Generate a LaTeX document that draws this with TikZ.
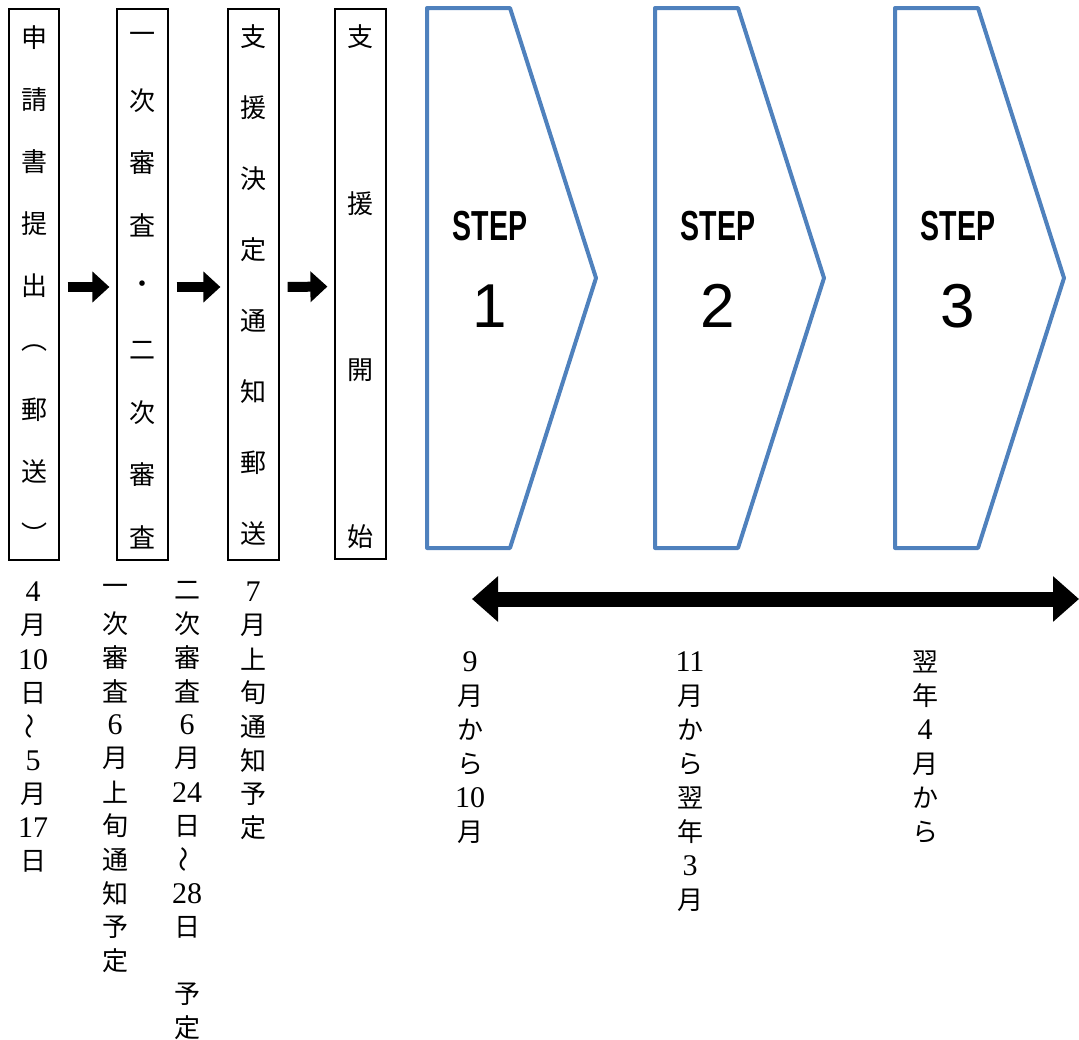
\documentclass[tikz,border=0pt]{standalone}
\usepackage{fontspec}
\usepackage{graphicx}
\newfontfamily\cjk{Noto Sans CJK JP}
\newfontfamily\lsans{Liberation Sans}
\newfontfamily\lserif{Liberation Serif}
\usetikzlibrary{arrows.meta}
\definecolor{stepblue}{RGB}{79,129,189}
\newcommand\dg[1]{{\lserif\fontsize{30}{30}\selectfont #1}}
\newcommand\wv{\rotatebox{90}{～}}
\newcommand\vcol[5]{%
  \foreach \c [count=\i from 0] in {#5} {
    \node[vch] (#1-\i) at (#2, {#3+\i*#4}) {\c};
  }}
\tikzset{
  boxst/.style={draw=black, line width=1.2pt, inner sep=0pt},
  vch/.style={font=\cjk\fontsize{26}{30}\selectfont, inner sep=0pt},
  chev/.style={draw=stepblue, line width=4pt, line join=round},
  blkarrow/.style={line width=10pt, -{Triangle[width=30pt,length=17pt]}, shorten <=8pt, shorten >=7pt},
  dblarrow/.style={line width=15pt, {Triangle[width=44pt,length=26pt]}-{Triangle[width=44pt,length=26pt]}},
  steplbl/.style={font=\lsans\bfseries\fontsize{42}{44}\selectfont, inner sep=0pt},
  stepnum/.style={font=\lsans\fontsize{62}{64}\selectfont, inner sep=0pt}
}
\begin{document}
\begin{tikzpicture}[x=1pt,y=-1pt]
\useasboundingbox (0,0) rectangle (1079,1039);
% process boxes
\node[boxst, minimum width=50pt, minimum height=551pt] (b1) at (34,284.5) {};
\node[boxst, minimum width=51pt, minimum height=551pt] (b2) at (142.5,284.5) {};
\node[boxst, minimum width=51pt, minimum height=551pt] (b3) at (253.5,284.5) {};
\node[boxst, minimum width=51pt, minimum height=550pt] (b4) at (360.5,284) {};
\vcol{t1}{34}{38}{62}{申,請,書,提,出,︵,郵,送,︶}
\vcol{t2}{142.5}{38}{62.4}{一,次,審,査,・,二,次,審,査}
\vcol{t3}{253.5}{37}{71}{支,援,決,定,通,知,郵,送}
\vcol{t4}{360.5}{37}{166.5}{支,援,開,始}
% arrows between boxes
\draw[blkarrow] ([yshift=-2.5pt]b1.east) -- ([yshift=-2.5pt]b2.west);
\draw[blkarrow] ([yshift=-2.5pt]b2.east) -- ([yshift=-2.5pt]b3.west);
\draw[blkarrow] ([yshift=-2.5pt]b3.east) -- ([yshift=-2.5pt]b4.west);
% step chevrons
\foreach \L/\k in {427/1,655/2,895/3} {
  \draw[chev] (\L,8) -- (\L+83,8) -- (\L+169,278) -- (\L+83,548) -- (\L,548) -- cycle;
  \node[steplbl] (s\k) at (\L+63,226) {\scalebox{0.68}[1]{STEP}};
  \node[stepnum] (n\k) at (\L+63,306) {\k};
}
% double arrow
\coordinate (aL) at (472,599);
\coordinate (aR) at (1079,599);
\draw[dblarrow] (aL) -- (aR);
% lower vertical texts
\vcol{c1}{33}{592}{33.7}{\dg{4},月,\dg{10},日,\wv,\dg{5},月,\dg{17},日}
\vcol{c2}{115}{590}{33.7}{一,次,審,査,\dg{6},月,上,旬,通,知,予,定}
\vcol{c3}{187}{590}{33.7}{二,次,審,査,\dg{6},月,\dg{24},日,\wv,\dg{28},日,{},予,定}
\vcol{c4}{253}{592}{33.7}{\dg{7},月,上,旬,通,知,予,定}
\vcol{c5}{470}{662}{34}{\dg{9},月,か,ら,\dg{10},月}
\vcol{c6}{690}{662}{34}{\dg{11},月,か,ら,翌,年,\dg{3},月}
\vcol{c7}{925}{662}{34}{翌,年,\dg{4},月,か,ら}
\end{tikzpicture}
\end{document}
